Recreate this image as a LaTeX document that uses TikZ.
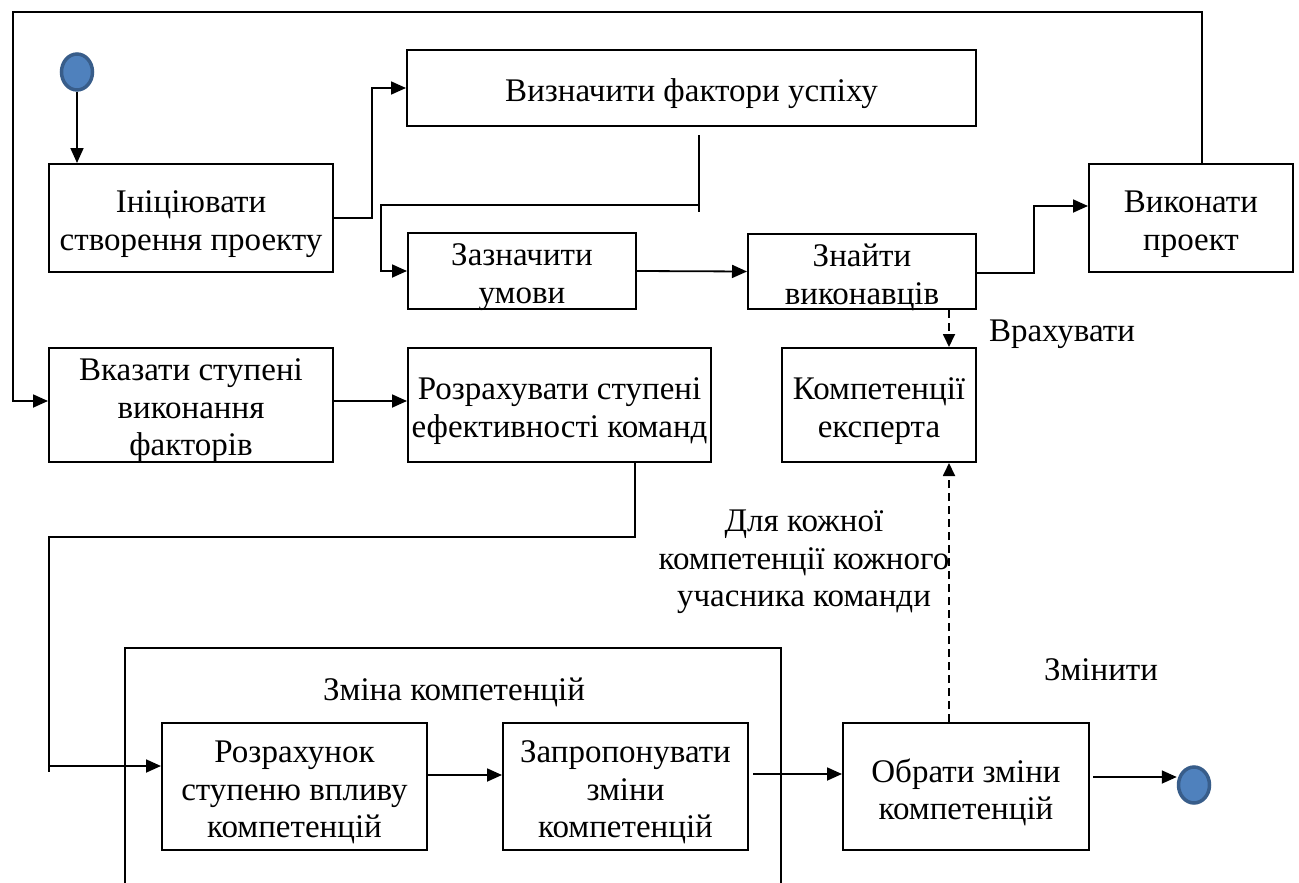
\documentclass[tikz,border=0pt]{standalone}
\usepackage{fontspec}
\setmainfont{Liberation Serif}
\usepackage{tikz}
\usetikzlibrary{positioning,calc,arrows.meta,shapes.geometric}
\definecolor{dotfill}{HTML}{4F81BD}
\definecolor{dotline}{HTML}{385D8A}

\begin{document}
\begin{tikzpicture}[x=1pt, y=-1pt,
  lbl/.style={align=center, inner sep=0pt, font=\fontsize{33}{37.5}\selectfont},
  box/.style={draw, line width=2pt, inner sep=0pt},
  btext/.style={label={[lbl, yshift=-6pt]center:{#1}}},
  arr/.style={line width=1.8pt, -{Triangle[length=15pt,width=13pt]}},
  dsh/.style={line width=1.8pt, dash pattern=on 8pt off 5pt, -{Triangle[length=13pt,width=12pt]}},
  dot/.style={ellipse, draw=dotline, fill=dotfill, line width=3.5pt, minimum width=31pt, minimum height=36pt, inner sep=0pt}]
  \useasboundingbox (0,0) rectangle (1299,883);

  % Start and first steps
  \node[dot] (startDot) at (77,72) {};
  \node[box, minimum width=284pt, minimum height=108pt, btext={Ініціювати\\створення проекту}] (iniProj) at (191,218) {};
  \node[box, minimum width=569pt, minimum height=76pt, btext={Визначити фактори успіху}] (defFact) at (691.5,88) {};
  \node[box, minimum width=228pt, minimum height=76pt, btext={Зазначити\\умови}] (setCond) at (522,271) {};
  \node[box, minimum width=228pt, minimum height=75pt, btext={Знайти\\виконавців}] (findExec) at (862,271.5) {};
  \node[box, minimum width=204pt, minimum height=108pt, btext={Виконати\\проект}] (doProj) at (1191,218) {};

  % Second row
  \node[box, minimum width=284pt, minimum height=114pt, btext={Вказати ступені\\виконання\\факторів}] (setDeg) at (191,405) {};
  \node[box, minimum width=303pt, minimum height=114pt, btext={Розрахувати ступені\\ефективності команд}] (calcEff) at (559.5,405) {};
  \node[box, minimum width=194pt, minimum height=114pt, btext={Компетенції\\експерта}] (expComp) at (879,405) {};

  % Change of competences
  \draw[line width=2pt] (125,883) |- (781,648) -- (781,883);
  \node[lbl] (chgTitle) at (454,692) {Зміна компетенцій};
  \node[box, minimum width=265pt, minimum height=127pt, btext={Розрахунок\\ступеню впливу\\компетенцій}] (calcImp) at (294.5,786.5) {};
  \node[box, minimum width=245pt, minimum height=127pt, btext={Запропонувати\\зміни\\компетенцій}] (propChg) at (625.5,786.5) {};
  \node[box, minimum width=246pt, minimum height=127pt, btext={Обрати зміни\\компетенцій}] (selChg) at (966,786.5) {};
  \node[dot] (endDot) at (1194,785) {};

  % Labels
  \node[lbl] (lblTake) at (1062,334) {Врахувати};
  \node[lbl] (lblEach) at (804,562) {Для кожної\\компетенції кожного\\учасника команди};
  \node[lbl] (lblChange) at (1101,670) {Змінити};

  % Control flow
  \coordinate (fSplit) at (699,205);
  \coordinate (topR) at (1202,12);
  \coordinate (topL) at (13,12);
  \coordinate (bendL) at (49,537);
  \coordinate (inImp) at ([yshift=20.5pt]calcImp.west);
  \coordinate (outSel) at ([xshift=3pt,yshift=9.5pt]selChg.east);
  \coordinate (dashX) at ([xshift=70pt]expComp.north);

  \draw[arr] (startDot.south) -- (startDot.south |- iniProj.north);
  \draw[arr] (iniProj.east) -- ++(38,0) |- (defFact.west);
  \draw[line width=1.8pt] ([yshift=-8pt]defFact.south -| fSplit) -- ([yshift=-7pt]fSplit);
  \draw[arr] (fSplit) -| ([xshift=-26pt]setCond.west) -- (setCond.west);
  \draw[arr] (setCond.east) -- (findExec.west);
  \draw[arr] ([yshift=-1.5pt]findExec.east) -- ++(57,0) |- ([yshift=12pt]doProj.west);
  \draw[arr] ([xshift=11pt]doProj.north) -- (topR) -- (topL) |- ([yshift=4pt]setDeg.west);
  \draw[arr] ([yshift=4pt]setDeg.east) -- ([yshift=4pt]calcEff.west);
  \draw[line width=1.8pt] ([xshift=75.5pt]calcEff.south) |- (bendL) -- (bendL |- inImp) -- ++(0,6);
  \draw[arr] (bendL |- inImp) -- (inImp);
  \draw[arr] ([yshift=11.5pt]calcImp.east) -- ([yshift=11.5pt]propChg.west);
  \draw[arr] ([xshift=4pt,yshift=12.5pt]propChg.east) -- ([yshift=12.5pt]selChg.west);
  \draw[arr] (outSel) -- (outSel -| endDot.west);

  % Dashed links to expert competences
  \draw[dsh] (findExec.south -| dashX) -- (expComp.north -| dashX);
  \draw[dsh] (selChg.north -| dashX) -- (expComp.south -| dashX);
\end{tikzpicture}
\end{document}
